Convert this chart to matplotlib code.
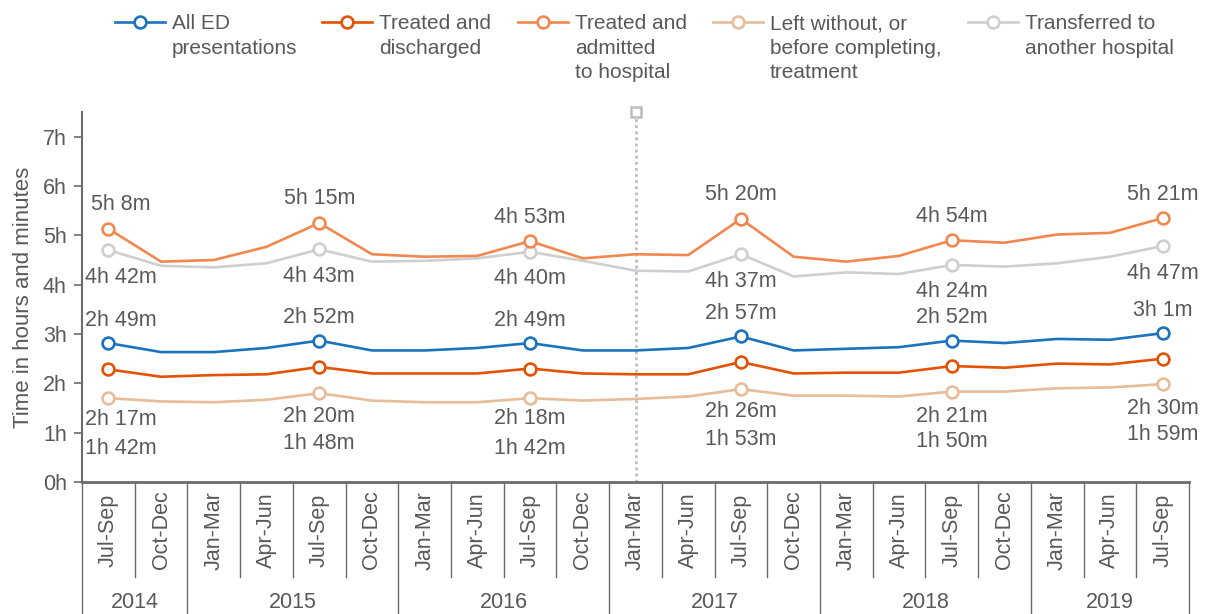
import matplotlib.pyplot as plt
from matplotlib.lines import Line2D

plt.rcParams['font.family'] = ['Liberation Sans', 'DejaVu Sans']

quarters = ["Jul-Sep", "Oct-Dec",
            "Jan-Mar", "Apr-Jun", "Jul-Sep", "Oct-Dec",
            "Jan-Mar", "Apr-Jun", "Jul-Sep", "Oct-Dec",
            "Jan-Mar", "Apr-Jun", "Jul-Sep", "Oct-Dec",
            "Jan-Mar", "Apr-Jun", "Jul-Sep", "Oct-Dec",
            "Jan-Mar", "Apr-Jun", "Jul-Sep"]
years = ["2014", "2015", "2016", "2017", "2018", "2019"]
year_start = [0, 2, 6, 10, 14, 18]
year_end = [1, 5, 9, 13, 17, 20]

# median times, minutes
all_ed = [169, 158, 158, 163, 172, 160, 160, 163, 169, 160, 160,
          163, 177, 160, 162, 164, 172, 169, 174, 173, 181]
discharged = [137, 128, 130, 131, 140, 132, 132, 132, 138, 132, 131,
              131, 146, 132, 133, 133, 141, 139, 144, 143, 150]
admitted = [308, 268, 270, 286, 315, 277, 274, 275, 293, 272, 277,
            276, 320, 274, 268, 275, 294, 291, 301, 303, 321]
left_wo = [102, 98, 97, 100, 108, 99, 97, 97, 102, 99, 101,
           104, 113, 105, 105, 104, 110, 110, 114, 115, 119]
transferred = [282, 263, 261, 266, 283, 268, 269, 272, 280, 269, 257,
               256, 277, 250, 255, 253, 264, 262, 266, 274, 287]

labelled = [0, 4, 8, 12, 16, 20]
marker_at = 10  # Jan-Mar 2017 reference line

TXT = "#595959"
AX = "#6b6b6b"
FS = 15.5

series = [
    ("Transferred to\nanother hospital", transferred, "#cfcfcf", -27),
    ("Left without, or\nbefore completing,\ntreatment", left_wo, "#e8bc98", -50),
    ("Treated and\nadmitted\nto hospital", admitted, "#f0884f", 24),
    ("Treated and\ndischarged", discharged, "#e35205", -50),
    ("All ED\npresentations", all_ed, "#1c73bd", 23),
]
legend_order = [4, 3, 2, 1, 0]
legend_x = [115, 322, 518, 713, 968]


def fmt(m):
    return "%dh %dm" % (m // 60, m % 60)


fig = plt.figure(figsize=(12.08, 6.14), dpi=100)
W, H = 1208, 614
ax = fig.add_axes([82 / W, 1 - 482 / H, (1189 - 82) / W, (482 - 112) / H])

x = list(range(len(quarters)))
for name, vals, col, off in series:
    hrs = [v / 60 for v in vals]
    ax.plot(x, hrs, color=col, lw=1.9, zorder=3)
    ax.plot([x[i] for i in labelled], [hrs[i] for i in labelled], 'o', ms=8.5,
            mfc="white", mec=col, mew=1.9, zorder=4)
    for i in labelled:
        dx = 9 if i == 0 else 0
        ax.annotate(fmt(vals[i]), (x[i], hrs[i]), xytext=(dx, off * 0.72),
                    textcoords="offset points", ha="center", va="center",
                    fontsize=FS, color=TXT)

ax.plot([marker_at, marker_at], [0, 7.5], ls=(0, (1.0, 1.2)), color="#bdbdbd", lw=2, zorder=2)
ax.plot([marker_at], [7.5], 's', ms=7, mfc="white", mec="#bdbdbd", mew=1.8,
        clip_on=False, zorder=5)

ax.set_xlim(-0.5, len(quarters) - 0.5)
ax.set_ylim(0, 7.5)
ax.set_yticks(range(8))
ax.set_yticklabels(["%dh" % h for h in range(8)], fontsize=FS, color=TXT)
ax.set_xticks([])
ax.tick_params(axis="y", length=6, width=1.2, color=AX, pad=5)
for s in ["top", "right"]:
    ax.spines[s].set_visible(False)
ax.spines["left"].set_color(AX)
ax.spines["left"].set_linewidth(1.5)
ax.spines["bottom"].set_color(AX)
ax.spines["bottom"].set_linewidth(2)
ax.set_ylabel("Time in hours and minutes", fontsize=16, color=TXT, labelpad=6)

# category axis
tr = ax.get_xaxis_transform()
for i, q in enumerate(quarters):
    ax.text(i, -0.13, q, rotation=90, ha="center", va="center", fontsize=FS,
            color=TXT, transform=tr)
for b in range(len(quarters) + 1):
    bx = b - 0.5
    deep = (b in year_start) or b == len(quarters)
    ax.add_line(Line2D([bx, bx], [0, -0.36 if deep else -0.257], transform=tr,
                       color=AX, lw=1.0, clip_on=False))
for yname, s, e in zip(years, year_start, year_end):
    ax.text((s + e) / 2, -0.327, yname, ha="center", va="center", fontsize=FS,
            color=TXT, transform=tr)

# legend
for k, lx in zip(legend_order, legend_x):
    name, vals, col, off = series[k]
    yl = 1 - 22 / H
    fig.add_artist(Line2D([lx / W, (lx + 50) / W], [yl, yl], color=col, lw=1.9))
    fig.add_artist(Line2D([(lx + 25) / W], [yl], marker='o', ms=8.5, mfc="white",
                          mec=col, mew=1.9))
    fig.text((lx + 57) / W, 1 - 14 / H, name, ha="left", va="top", fontsize=15,
             color=TXT, linespacing=1.37)

fig.savefig("out.png", dpi=100)
